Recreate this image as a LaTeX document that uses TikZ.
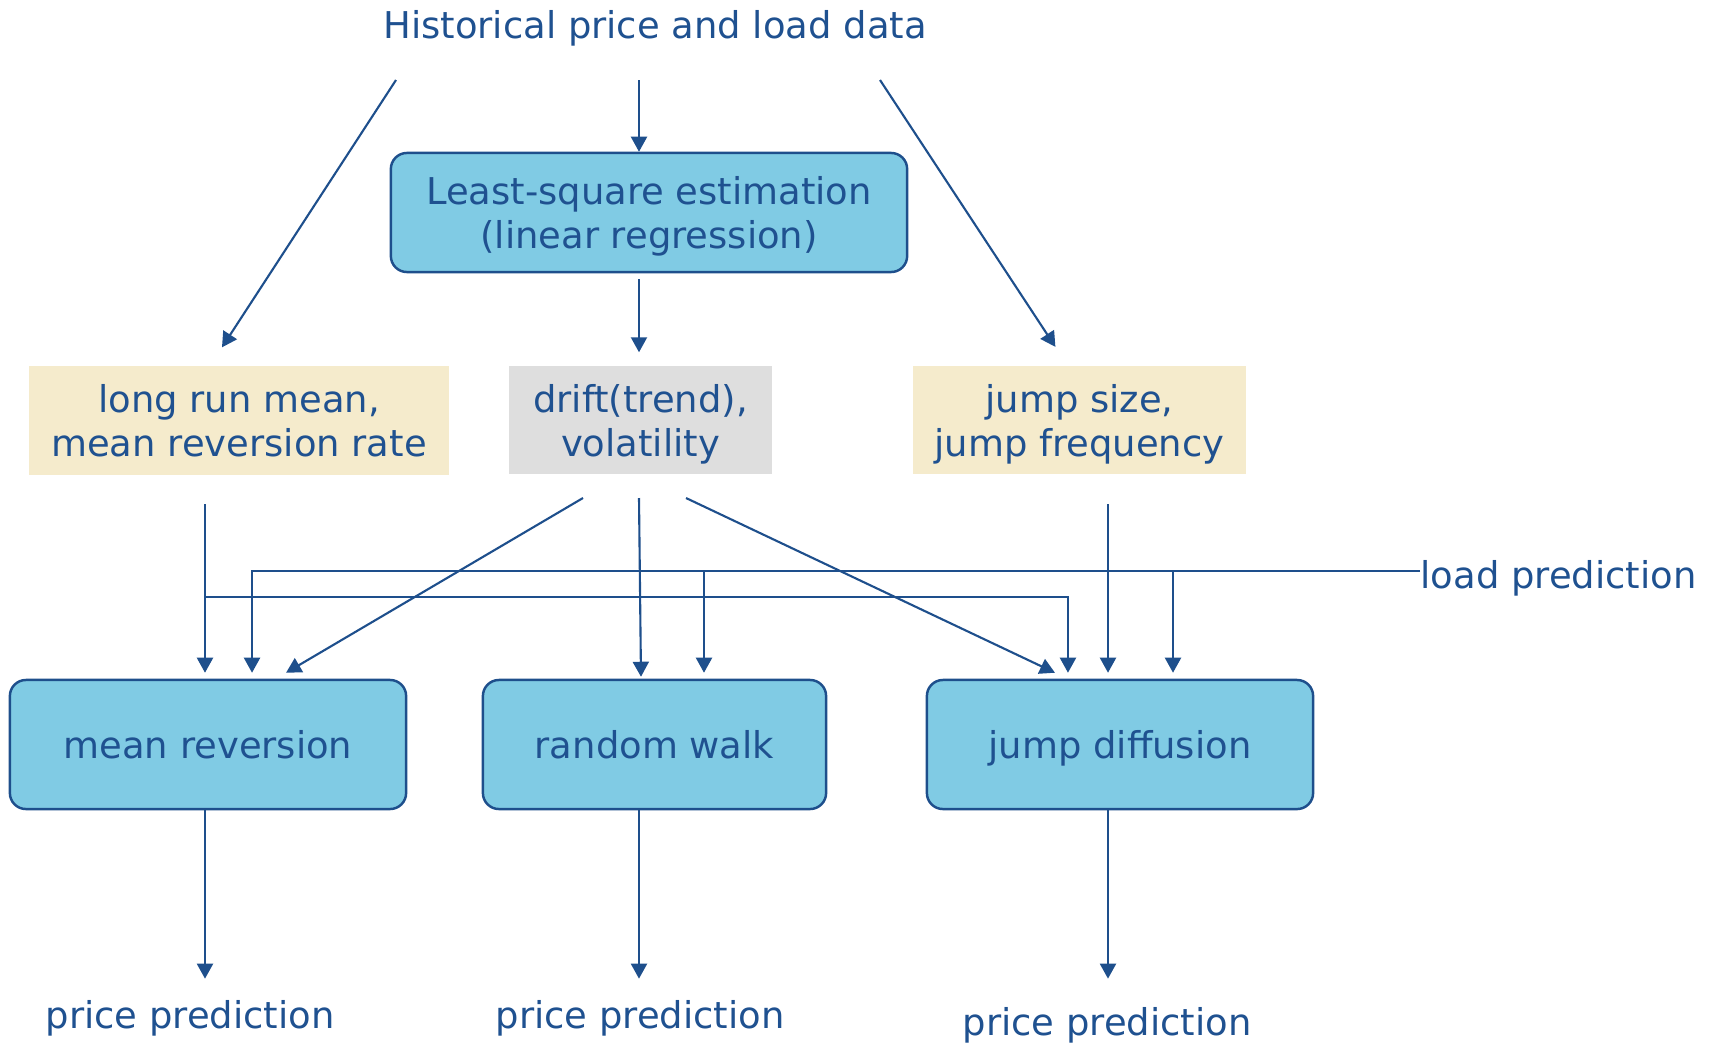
\documentclass[tikz,border=0pt]{standalone}
\usepackage{fontspec}
\setmainfont{DejaVu Sans}
\usetikzlibrary{arrows.meta,calc}
\definecolor{textblue}{HTML}{1F5190}
\definecolor{lineblue}{HTML}{1E4F8C}
\definecolor{procblue}{HTML}{80CBE4}
\definecolor{cream}{HTML}{F5EBCC}
\definecolor{greybox}{HTML}{DEDEDE}
\tikzset{
  plain/.style={text=textblue, inner sep=0pt, font=\fontsize{10.5}{12.5}\selectfont,
    execute at begin node=\rule{0pt}{11pt}, execute at end node=\rule[-3pt]{0pt}{3pt}},
  twoline/.style={text height=23.5pt, text depth=3pt},
  proc/.style={plain, draw=lineblue, fill=procblue, rounded corners=0.16cm, align=center, line width=0.7pt},
  param/.style={plain, twoline, align=center, minimum height=1.08cm},
  arr/.style={draw=lineblue, line width=0.6pt, -{Triangle[length=0.15cm,width=0.16cm]}}
}

\begin{document}
\begin{tikzpicture}[x=0.01cm, y=-0.01cm]
  \useasboundingbox (0,0) rectangle (1712,1042);

  \node[plain] (hist) at (655,24) {Historical price and load data};
  \node[proc, twoline, minimum width=5.16cm, minimum height=1.19cm] (lse) at (649,212.5) {Least-square estimation\\(linear regression)};

  \node[param, fill=cream, minimum width=4.2cm] (mrp) at (239,420.5) {long run mean,\\mean reversion rate};
  \node[param, fill=greybox, minimum width=2.63cm] (drift) at (640.5,420) {drift(trend),\\volatility};
  \node[param, fill=cream, minimum width=3.33cm] (jdp) at (1079.5,420) {jump size,\\jump frequency};

  \node[proc, minimum width=3.96cm, minimum height=1.29cm] (mr) at (208,744.5) {mean reversion};
  \node[proc, minimum width=3.43cm, minimum height=1.29cm] (rw) at (654.5,744.5) {random walk};
  \node[proc, minimum width=3.86cm, minimum height=1.29cm] (jd) at (1120,744.5) {jump diffusion};

  \node[plain, anchor=west] (load) at (1420,574) {load prediction};
  \node[plain] (pp1) at (190,1014) {price prediction};
  \node[plain] (pp2) at (640,1014) {price prediction};
  \node[plain] (pp3) at (1107,1021) {price prediction};

  \coordinate (hl) at (396,80);
  \coordinate (hm) at (639,80);
  \coordinate (hr) at (880,80);
  \coordinate (ma) at (205,504);
  \coordinate (mb) at (205,597);
  \coordinate (da) at (583,498);
  \coordinate (db) at (639,498);
  \coordinate (dc) at (686,498);
  \coordinate (ja) at (1108,504);
  \coordinate (lb1) at (704,571);
  \coordinate (lb2) at (1173,571);

  \draw[arr] (hm) -- (hm |- lse.north);
  \draw[arr, shorten >=0.22cm] (hl) -- ([xshift=-0.29cm]mrp.north);
  \draw[arr, shorten >=0.22cm] (hr) -- ([xshift=-0.12cm]jdp.north);
  \draw[arr, shorten <=0.06cm, shorten >=0.13cm] (lse.south -| hm) -- (hm |- drift.north);

  \draw[arr, shorten >=0.06cm] (ma) -- (ma |- mr.north);
  \draw[arr] (da) -- ([xshift=0.78cm, yshift=0.06cm]mr.north);
  \draw[arr] (db) -- ([xshift=-0.135cm, yshift=0.02cm]rw.north);
  \draw[arr] (dc) -- ([xshift=-0.65cm, yshift=0.06cm]jd.north);
  \draw[arr, shorten >=0.06cm] (ja) -- (ja |- jd.north);

  \draw[arr, shorten >=0.06cm] ([yshift=0.03cm]load.west) -| ([xshift=0.44cm]mr.north);
  \draw[arr, shorten >=0.06cm] (lb1) -- (lb1 |- rw.north);
  \draw[arr, shorten >=0.06cm] (lb2) -- (lb2 |- jd.north);
  \draw[arr, shorten >=0.06cm] (mb) -| ([xshift=-0.52cm]jd.north);

  \draw[arr, shorten >=0.10cm] (mr.south -| ma) -- (ma |- pp1.north);
  \draw[arr, shorten >=0.10cm] (rw.south -| db) -- (db |- pp2.north);
  \draw[arr, shorten >=0.17cm] (jd.south -| ja) -- (ja |- pp3.north);
\end{tikzpicture}
\end{document}
